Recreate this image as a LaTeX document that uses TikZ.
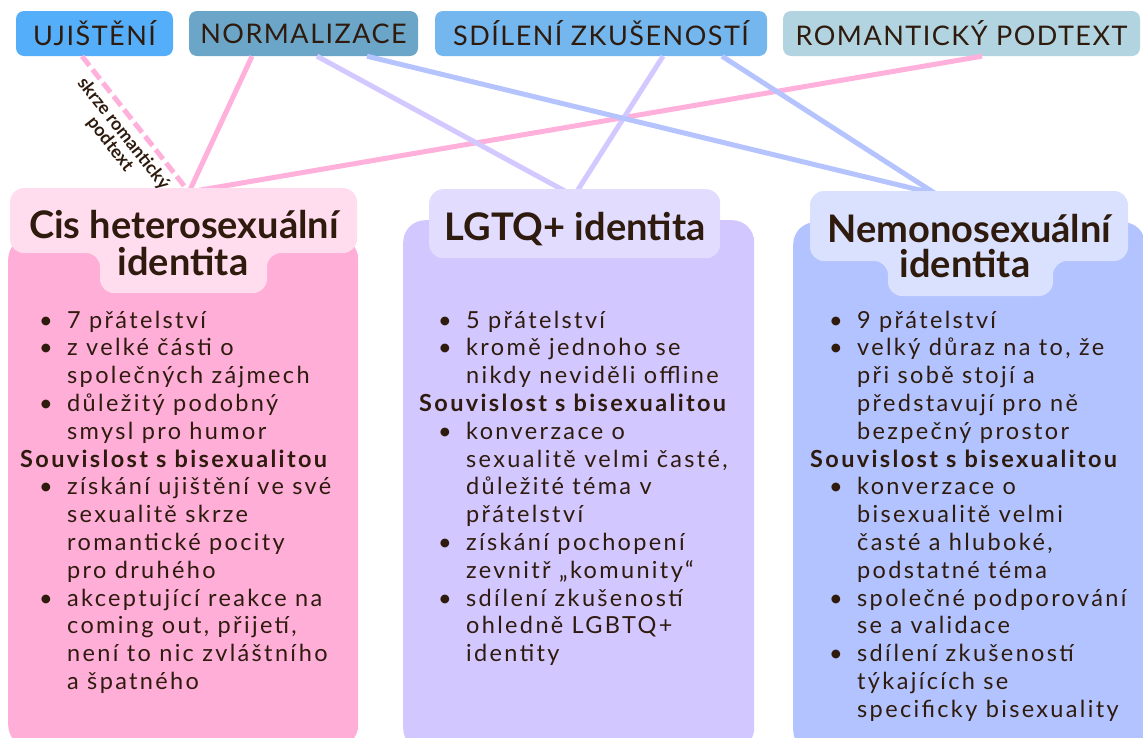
\documentclass[tikz,border=0pt]{standalone}
\usepackage{fontspec}
\setmainfont{Lato}
\newfontfamily\tagfont[LetterSpace=5.5]{Lato}
\newfontfamily\bodyfont[LetterSpace=10]{Lato}
\usetikzlibrary{calc}
\definecolor{txt}{HTML}{2E1B0E}
\definecolor{pinkbody}{HTML}{FFAED8}
\definecolor{pinkhead}{HTML}{FFDDEF}
\definecolor{lavbody}{HTML}{D3C7FF}
\definecolor{lavhead}{HTML}{E2DCFF}
\definecolor{bluebody}{HTML}{B3C3FF}
\definecolor{bluehead}{HTML}{DAE1FF}
\definecolor{tagA}{HTML}{55AEFA}
\definecolor{tagB}{HTML}{6BA6C9}
\definecolor{tagC}{HTML}{74B7EE}
\definecolor{tagD}{HTML}{B2D4E0}
\definecolor{pinkline}{HTML}{FFB1DB}
\definecolor{lavline}{HTML}{D3C8FF}
\definecolor{blueline}{HTML}{B5C3FF}
\newcommand\Bi{\makebox[47pt][l]{\hspace*{19pt}\textbullet}}
\newcommand\Ci{\hspace*{47pt}}
\newcommand\Hd{{\bfseries Souvislost s bisexualitou}}
\tikzset{
  tagbox/.style={rectangle, rounded corners=8pt, inner sep=0pt, minimum height=45pt,
    text=txt, font=\tagfont\fontsize{27}{27}\selectfont},
  cardbody/.style={rectangle, rounded corners=22pt, inner sep=0pt, anchor=north west},
  headbox/.style={rectangle, rounded corners=14pt, inner sep=0pt, anchor=north west},
  titletext/.style={anchor=base, inner sep=0pt, text=txt, font=\bfseries\fontsize{38}{38}\selectfont},
  listtext/.style={anchor=base west, inner sep=0pt, text=txt},
  conn/.style={line width=5pt},
  lbl/.style={text=txt, font=\bfseries\fontsize{18}{17}\selectfont, align=center, inner sep=5pt}
}
\begin{document}
\begin{tikzpicture}[x=1pt,y=-1pt]
\useasboundingbox (0,0) rectangle (1143,737);
% tags
\node[tagbox, fill=tagA, minimum width=157pt] (uji) at (94.5,33.5) {UJIŠTĚNÍ};
\node[tagbox, fill=tagB, minimum width=229pt] (nor) at (303.5,33.5) {NORMALIZACE};
\node[tagbox, fill=tagC, minimum width=332pt] (sdi) at (601,33.5) {SDÍLENÍ ZKUŠENOSTÍ};
\node[tagbox, fill=tagD, minimum width=357pt] (rom) at (961.5,33.5) {ROMANTICKÝ PODTEXT};
% card bodies
\node[cardbody, fill=pinkbody, minimum width=350pt, minimum height=510pt] (cisbody) at (8,237) {};
\node[cardbody, fill=lavbody, minimum width=351pt, minimum height=530pt] (lgbody) at (403,220) {};
\node[cardbody, fill=bluebody, minimum width=352pt, minimum height=530pt] (nmbody) at (793,222) {};
% connector ends
\coordinate (cisin) at (189,192);
\coordinate (lgin) at (574,196);
\coordinate (nmin) at (936,194);
% connectors
\draw[conn, pinkline, dash pattern=on 12pt off 5pt] ([xshift=-12.5pt]uji.south) -- (cisin)
  node[midway, below, sloped, lbl] (lbltxt) {skrze romantický\\podtext};
\draw[conn, pinkline] ([xshift=-51.5pt]nor.south) -- (cisin);
\draw[conn, pinkline] ([xshift=20.5pt]rom.south) -- (cisin);
\draw[conn, lavline] ([xshift=13.5pt]nor.south) -- (lgin);
\draw[conn, lavline] ([xshift=62pt]sdi.south) -- (lgin);
\draw[conn, blueline] ([xshift=63.5pt]nor.south) -- (nmin);
\draw[conn, blueline] ([xshift=121pt]sdi.south) -- (nmin);
% headers
\fill[pinkhead, rounded corners=14pt] (10,188) -- (357,188) -- (357,253) -- (267,253) -- (267,293)
  -- (100,293) -- (100,253) -- (10,253) -- cycle;
\node[headbox, fill=lavhead, minimum width=291pt, minimum height=69pt] (lghead) at (429,189) {};
\fill[bluehead, rounded corners=14pt] (810,191) -- (1128,191) -- (1128,261) -- (1053,261) -- (1053,296)
  -- (888,296) -- (888,261) -- (810,261) -- cycle;
% titles
\node[titletext] (cisA) at (184,238) {Cis heterosexuální};
\node[titletext] (cisB) at (183,275) {identita};
\node[titletext] (lgA) at (575,240) {LGTQ+ identita};
\node[titletext] (nmA) at (969.5,242) {Nemonosexuální};
\node[titletext] (nmB) at (965,277) {identita};
% lists
\node[listtext] (cislist) at (20,328) {\begin{minipage}[t]{338pt}\bodyfont\fontsize{23.5}{27.8}\selectfont\raggedright
\Bi 7 přátelství\\
\Bi z velké části o\\
\Ci společných zájmech\\
\Bi důležitý podobný\\
\Ci smysl pro humor\\
\Hd\\
\Bi získání ujištění ve své\\
\Ci sexualitě skrze\\
\Ci romantické pocity\\
\Ci pro druhého\\
\Bi akceptující reakce na\\
\Ci coming out, přijetí,\\
\Ci není to nic zvláštního\\
\Ci a špatného
\end{minipage}};
\node[listtext] (lglist) at (419,328) {\begin{minipage}[t]{330pt}\bodyfont\fontsize{23.5}{27.8}\selectfont\raggedright
\Bi 5 přátelství\\
\Bi kromě jednoho se\\
\Ci nikdy neviděli offline\\
\Hd\\
\Bi konverzace o\\
\Ci sexualitě velmi časté,\\
\Ci důležité téma v\\
\Ci přátelství\\
\Bi získání pochopení\\
\Ci zevnitř „komunity“\\
\Bi sdílení zkušeností\\
\Ci ohledně LGBTQ+\\
\Ci identity
\end{minipage}};
\node[listtext] (nmlist) at (810,328) {\begin{minipage}[t]{330pt}\bodyfont\fontsize{23.5}{27.8}\selectfont\raggedright
\Bi 9 přátelství\\
\Bi velký důraz na to, že\\
\Ci při sobě stojí a\\
\Ci představují pro ně\\
\Ci bezpečný prostor\\
\Hd\\
\Bi konverzace o\\
\Ci bisexualitě velmi\\
\Ci časté a hluboké,\\
\Ci podstatné téma\\
\Bi společné podporování\\
\Ci se a validace\\
\Bi sdílení zkušeností\\
\Ci týkajících se\\
\Ci specificky bisexuality
\end{minipage}};
\end{tikzpicture}
\end{document}
